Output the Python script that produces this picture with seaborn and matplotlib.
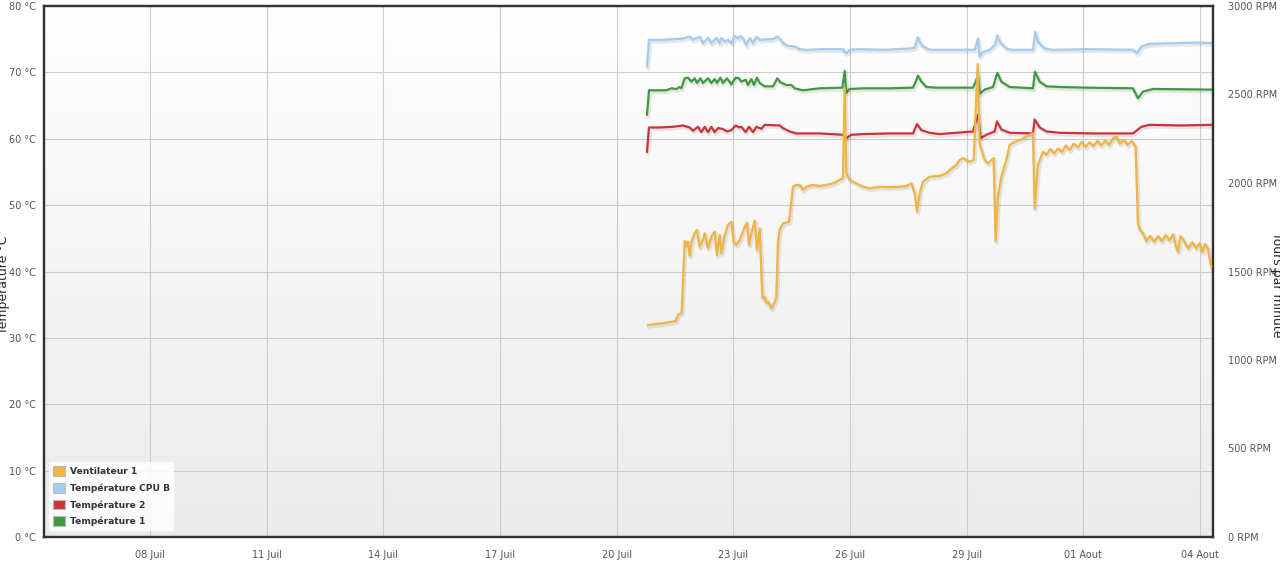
import numpy as np
import pandas as pd
import matplotlib
matplotlib.use("Agg")
import matplotlib.pyplot as plt
import matplotlib.patheffects as pe
from matplotlib.patches import Patch
from matplotlib.colors import LinearSegmentedColormap
import seaborn as sns

#%% donnees (jour = jour de juillet, 32 = 01 Aout)
jours_ventilateur = [20.797, 21.100, 21.517, 21.569, 21.671, 21.749, 21.792, 21.833, 21.877, 21.921,
                     22.006, 22.065, 22.134, 22.219, 22.263, 22.348, 22.435, 22.520, 22.579, 22.648,
                     22.692, 22.777, 22.862, 22.949, 23.008, 23.078, 23.163, 23.291, 23.350, 23.402,
                     23.464, 23.548, 23.608, 23.677, 23.746, 23.806, 23.849, 23.891, 23.934, 23.978,
                     24.063, 24.106, 24.148, 24.191, 24.276, 24.430, 24.533, 24.621, 24.706, 24.790,
                     24.878, 25.048, 25.220, 25.392, 25.562, 25.734, 25.819, 25.863, 25.906, 25.991,
                     26.163, 26.333, 26.506, 26.763, 27.020, 27.277, 27.449, 27.578, 27.663, 27.722,
                     27.791, 27.876, 28.048, 28.305, 28.478, 28.563, 28.735, 28.820, 28.905, 28.992,
                     29.077, 29.180, 29.283, 29.334, 29.378, 29.463, 29.547, 29.635, 29.694, 29.745,
                     29.804, 29.892, 30.020, 30.105, 30.234, 30.363, 30.535, 30.620, 30.705, 30.748,
                     30.833, 30.962, 31.050, 31.150, 31.250, 31.348, 31.450, 31.550, 31.650, 31.750,
                     31.862, 31.960, 32.060, 32.160, 32.260, 32.360, 32.460, 32.560, 32.660, 32.760,
                     32.849, 32.940, 33.040, 33.140, 33.240, 33.345, 33.404, 33.470, 33.533,
                     33.620, 33.720, 33.820, 33.918, 34.020, 34.120, 34.220, 34.304,
                     34.380, 34.433, 34.500, 34.600, 34.700, 34.800, 34.906, 34.990, 35.060,
                     35.130, 35.200, 35.292]
rpm_ventilateur = [1198, 1205, 1220, 1254, 1266, 1672, 1640, 1668, 1590, 1668,
                   1716, 1735, 1640, 1678, 1716, 1631, 1697, 1725, 1593, 1706,
                   1603, 1706, 1763, 1781, 1668, 1650, 1678, 1753, 1776, 1650,
                   1716, 1787, 1622, 1744, 1349, 1358, 1320, 1329, 1311, 1292,
                   1329, 1358, 1668, 1735, 1772, 1781, 1979, 1989, 1989, 1961,
                   1979, 1989, 1983, 1989, 1998, 2017, 2027, 2537, 2055, 2017,
                   1998, 1979, 1970, 1979, 1976, 1979, 1983, 1998, 1942, 1838,
                   1942, 2007, 2036, 2040, 2055, 2074, 2102, 2130, 2140, 2130,
                   2120, 2130, 2672, 2224, 2187, 2130, 2111, 2130, 2140, 1672,
                   1923, 2036, 2130, 2215, 2233, 2243, 2262, 2271, 2281, 1857,
                   2102, 2177, 2160, 2192, 2168, 2195, 2175, 2212, 2185, 2222,
                   2200, 2232, 2205, 2230, 2208, 2238, 2212, 2240, 2215, 2252,
                   2262, 2222, 2245, 2215, 2238, 2205, 1772, 1730, 1716,
                   1672, 1700, 1668, 1700, 1672, 1705, 1675, 1710,
                   1645, 1612, 1700, 1668, 1630, 1665, 1631, 1660, 1610,
                   1655, 1630, 1527]

jours_cpu_b = [20.779, 20.831, 21.106, 21.448, 21.705, 21.877, 21.962, 22.134, 22.219, 22.348,
               22.435, 22.564, 22.648, 22.692, 22.777, 22.862, 22.949, 23.034, 23.119, 23.181,
               23.248, 23.335, 23.420, 23.505, 23.592, 23.677, 23.849, 24.019, 24.122, 24.191,
               24.276, 24.405, 24.577, 24.706, 24.878, 25.305, 25.819, 25.863, 25.906, 25.991,
               26.248, 26.900, 27.534, 27.663, 27.740, 27.791, 27.876, 28.048, 28.647, 29.205,
               29.290, 29.334, 29.419, 29.591, 29.720, 29.789, 29.848, 30.020, 30.190, 30.705,
               30.766, 30.833, 31.005, 31.219, 32.078, 33.276, 33.379, 33.492, 33.705, 34.304,
               34.991, 35.325]
temp_cpu_b = [70.9, 74.9, 74.9, 75.0, 75.1, 75.4, 74.9, 75.4, 74.4, 75.2,
              74.4, 75.2, 74.4, 75.2, 74.6, 74.9, 74.4, 75.5, 75.1, 75.5,
              75.1, 74.1, 75.2, 74.4, 75.4, 74.9, 75.0, 75.0, 75.4, 75.1,
              74.4, 74.0, 73.9, 73.5, 73.4, 73.5, 73.5, 73.0, 72.9, 73.4,
              73.5, 73.4, 73.6, 73.7, 75.3, 74.6, 73.9, 73.4, 73.4, 73.4,
              75.1, 72.4, 73.1, 73.4, 74.1, 75.6, 74.6, 73.6, 73.4, 73.4,
              76.1, 74.6, 73.6, 73.4, 73.5, 73.4, 72.9, 73.9, 74.3, 74.4,
              74.5, 74.4]

jours_temp2 = [20.779, 20.831, 21.106, 21.448, 21.705, 21.877, 21.962, 22.091, 22.178, 22.263,
               22.348, 22.435, 22.520, 22.605, 22.718, 22.836, 22.949, 23.060, 23.145, 23.206,
               23.317, 23.402, 23.505, 23.592, 23.721, 23.806, 24.191, 24.276, 24.448, 24.621,
               25.220, 25.819, 25.906, 26.035, 26.333, 27.000, 27.619, 27.722, 27.835, 28.048,
               28.305, 29.162, 29.290, 29.360, 29.506, 29.720, 29.779, 29.892, 30.105, 30.705,
               30.748, 30.877, 31.049, 31.391, 32.300, 33.276, 33.492, 33.705, 34.500, 35.325]
temp_temp2 = [58.0, 61.7, 61.7, 61.8, 62.0, 61.7, 61.2, 61.8, 61.0, 61.8,
              61.0, 61.8, 61.0, 61.6, 61.5, 61.1, 61.3, 62.0, 61.7, 61.8,
              61.0, 61.8, 61.0, 61.8, 61.5, 62.1, 62.0, 61.6, 61.1, 60.8,
              60.8, 60.6, 60.1, 60.6, 60.7, 60.8, 60.8, 62.2, 61.3, 60.9,
              60.7, 61.1, 63.6, 60.1, 60.6, 61.1, 62.6, 61.4, 60.9, 60.8,
              62.9, 61.7, 61.1, 60.9, 60.8, 60.8, 61.8, 62.1, 62.0, 62.1]

jours_temp1 = [20.779, 20.831, 21.278, 21.407, 21.535, 21.620, 21.664, 21.749, 21.833, 21.921,
               22.006, 22.065, 22.152, 22.219, 22.348, 22.435, 22.520, 22.579, 22.666, 22.733,
               22.836, 22.949, 23.060, 23.145, 23.206, 23.317, 23.376, 23.464, 23.531, 23.608,
               23.677, 23.806, 24.019, 24.132, 24.209, 24.363, 24.492, 24.577, 24.790, 25.220,
               25.804, 25.863, 25.906, 25.991, 26.333, 27.000, 27.619, 27.689, 27.748, 27.835,
               27.964, 28.221, 29.162, 29.231, 29.290, 29.334, 29.463, 29.676, 29.789, 29.892,
               30.105, 30.705, 30.756, 30.877, 31.049, 31.391, 32.078, 33.276, 33.404, 33.533,
               33.790, 35.325]
temp_temp1 = [63.6, 67.3, 67.3, 67.6, 67.5, 67.8, 67.6, 69.1, 69.2, 68.6,
              69.1, 68.4, 69.1, 68.4, 69.1, 68.4, 69.0, 68.4, 69.2, 68.4,
              69.1, 68.2, 69.2, 69.1, 68.6, 68.9, 68.1, 69.0, 68.1, 69.2,
              68.4, 67.9, 67.9, 69.1, 68.5, 68.1, 68.1, 67.6, 67.3, 67.6,
              67.7, 70.2, 66.9, 67.5, 67.6, 67.6, 67.7, 68.6, 69.5, 68.6,
              67.8, 67.7, 67.7, 68.6, 69.6, 66.8, 67.4, 67.8, 69.9, 68.6,
              67.8, 67.6, 70.1, 68.6, 67.9, 67.8, 67.7, 67.6, 66.1, 67.1,
              67.5, 67.4]

etiquettes_x = ["08 Juil", "11 Juil", "14 Juil", "17 Juil", "20 Juil",
                "23 Juil", "26 Juil", "29 Juil", "01 Aout", "04 Aout"]
jours_x = [8, 11, 14, 17, 20, 23, 26, 29, 32, 35]

noms = ["Ventilateur 1", "Température CPU B", "Température 2", "Température 1"]
couleurs = ["#f2b440", "#a2cdf0", "#cc3338", "#3d9a40"]

#%% conversion en dates
debut = pd.Timestamp("2017-07-01")
def en_date(j):
    return debut + pd.to_timedelta(np.array(j) - 1, unit="D")

df_vent = pd.DataFrame({"date": en_date(jours_ventilateur), "valeur": rpm_ventilateur})
df_cpu = pd.DataFrame({"date": en_date(jours_cpu_b), "valeur": temp_cpu_b})
df_t2 = pd.DataFrame({"date": en_date(jours_temp2), "valeur": temp_temp2})
df_t1 = pd.DataFrame({"date": en_date(jours_temp1), "valeur": temp_temp1})

#%% figure
sns.set_style("white")
plt.rcParams["font.family"] = ["DejaVu Sans"]

fig = plt.figure(figsize=(12.8, 5.69), dpi=100)
ax = fig.add_axes([44 / 1280, 1 - 537 / 569, (1213 - 44) / 1280, (537 - 6) / 569])
ax2 = ax.twinx()

# fond en degrade
cmap = LinearSegmentedColormap.from_list("fond", ["#ffffff", "#ebebeb"])
ax.imshow(np.linspace(0, 1, 256).reshape(-1, 1), extent=[0, 1, 0, 1], transform=ax.transAxes,
          cmap=cmap, aspect="auto", zorder=0)

ombre = [pe.SimpleLineShadow(offset=(0.8, -1.2), shadow_color="k", alpha=0.09, linewidth=3.0), pe.Normal()]

sns.lineplot(data=df_t1, x="date", y="valeur", ax=ax, color=couleurs[3], lw=1.6, path_effects=ombre, zorder=3)
sns.lineplot(data=df_t2, x="date", y="valeur", ax=ax, color=couleurs[2], lw=1.6, path_effects=ombre, zorder=3)
sns.lineplot(data=df_cpu, x="date", y="valeur", ax=ax, color=couleurs[1], lw=1.6, path_effects=ombre, zorder=3)
sns.lineplot(data=df_vent, x="date", y="valeur", ax=ax2, color=couleurs[0], lw=1.6, path_effects=ombre, zorder=3)

xmin = debut + pd.Timedelta(days=5.274 - 1)
xmax = debut + pd.Timedelta(days=35.334 - 1)
ax.set_xlim(xmin, xmax)
ax.set_ylim(0, 80)
ax2.set_ylim(0, 3000)

ax.set_xticks(en_date(jours_x))
ax.set_xticklabels(etiquettes_x)
ax.set_yticks(range(0, 81, 10))
ax.set_yticklabels([f"{v} °C" for v in range(0, 81, 10)])
ax2.set_yticks(range(0, 3001, 500))
ax2.set_yticklabels([f"{v} RPM" for v in range(0, 3001, 500)])

ax.grid(True, color="#cccccc", lw=0.8, zorder=1)
ax.set_axisbelow(True)
ax.set_xlabel("")
ax.set_ylabel("")
ax2.set_xlabel("")
ax2.set_ylabel("")

ax.tick_params(axis="x", length=0, pad=9, labelsize=7, labelcolor="#555555")
ax.tick_params(axis="y", length=0, pad=6, labelsize=7, labelcolor="#555555")
ax2.tick_params(axis="y", length=0, pad=11, labelsize=7, labelcolor="#555555")
for a in (ax, ax2):
    for s in a.spines.values():
        s.set_color("#333333")
        s.set_linewidth(1.6)

fig.text(4 / 1280, 0.5, "Temperature °C", rotation=90, ha="center", va="center", fontsize=9)
fig.text(1277 / 1280, 0.5, "Tours par minute", rotation=270, ha="center", va="center", fontsize=9)

poignees = [Patch(facecolor=c, edgecolor="#bbbbbb", lw=0.8) for c in couleurs]
leg = ax2.legend(poignees, noms, loc="lower left", bbox_to_anchor=(0.002, 0.007),
                 prop={"weight": "bold", "size": 6.6}, frameon=True, fancybox=False,
                 handlelength=1.25, handleheight=1.25, handletextpad=0.55, labelspacing=0.75,
                 borderpad=0.45, borderaxespad=0.3)
leg.get_frame().set_facecolor("white")
leg.get_frame().set_alpha(0.85)
leg.get_frame().set_edgecolor("none")
for t in leg.get_texts():
    t.set_color("#333333")

fig.savefig("out.png", dpi=100)
